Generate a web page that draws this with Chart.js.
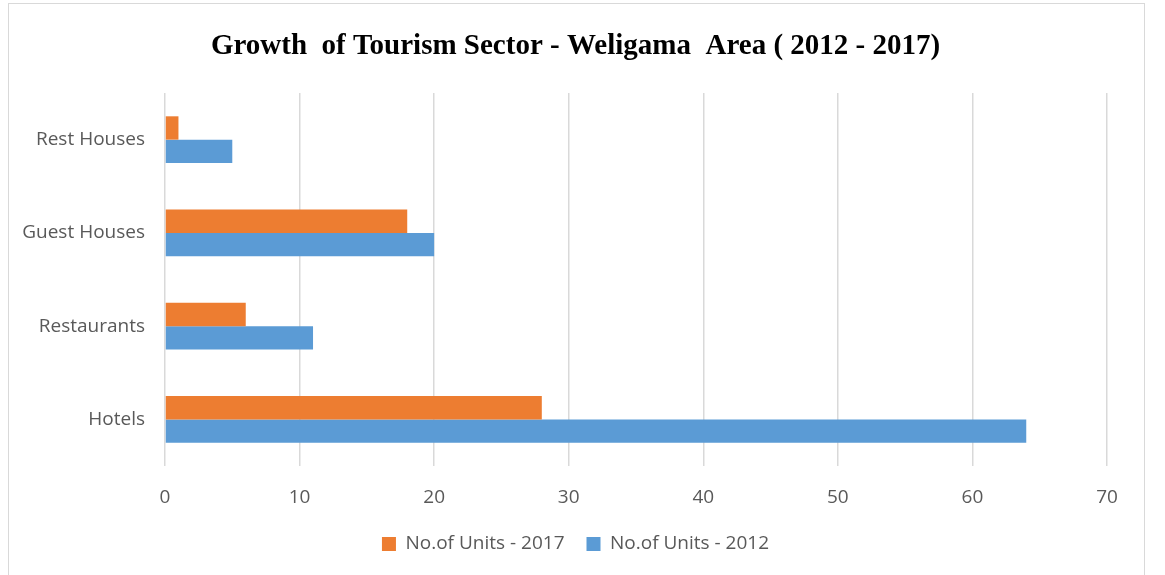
<!DOCTYPE html>
<html>
<head>
<meta charset="utf-8">
<script src="https://cdn.jsdelivr.net/npm/chart.js@4/dist/chart.umd.min.js"></script>
<style>
  html, body { margin: 0; padding: 0; background: #fff; }
  #wrap { position: relative; width: 1165px; height: 575px; overflow: hidden; }
  #frame {
    position: absolute; left: 8px; top: 3px; width: 1137px; height: 600px;
    border: 1px solid #d9d9d9; box-sizing: border-box;
  }
  canvas { position: absolute; left: 0; top: 0; }
</style>
</head>
<body>
<div id="wrap">
  <div id="frame"></div>
  <canvas id="chart" width="1165" height="575"></canvas>
</div>
<script>
// categories top -> bottom, as in the picture
const categories = ['Rest Houses', 'Guest Houses', 'Restaurants', 'Hotels'];
const units2017 = [1, 18, 6, 28];
const units2012 = [5, 20, 11, 64];
const xTicks = [0, 10, 20, 30, 40, 50, 60, 70];

const FONT = 'Open Sans';
const GREY = '#595959';

const ctx = document.getElementById('chart').getContext('2d');

new Chart(ctx, {
  type: 'bar',
  data: {
    labels: categories,
    datasets: [
      {
        label: 'No.of Units - 2017',
        data: units2017,
        backgroundColor: '#ed7d31',
        borderWidth: 0,
        categoryPercentage: 0.5,
        barPercentage: 1.0
      },
      {
        label: 'No.of Units - 2012',
        data: units2012,
        backgroundColor: '#5b9bd5',
        borderWidth: 0,
        categoryPercentage: 0.5,
        barPercentage: 1.0
      }
    ]
  },
  options: {
    indexAxis: 'y',
    responsive: false,
    animation: false,
    devicePixelRatio: 1,
    layout: { padding: { left: 0, right: 14, top: 0, bottom: 11.5 } },
    plugins: {
      title: {
        display: true,
        text: 'Growth  of Tourism Sector - Weligama  Area ( 2012 - 2017)',
        color: '#000',
        font: { family: 'Liberation Serif', size: 29, weight: 'bold' },
        padding: { top: 29.6, bottom: 28.6 }
      },
      legend: {
        display: true,
        position: 'bottom',
        labels: {
          color: GREY,
          boxWidth: 14,
          boxHeight: 14,
          padding: 22,
          font: { family: FONT, size: 19 }
        }
      },
      tooltip: { enabled: false }
    },
    scales: {
      x: {
        min: 0,
        // range runs a little past the last tick so the plot leaves empty room on the right
        max: 73.27,
        afterBuildTicks: axis => { axis.ticks = xTicks.map(v => ({ value: v })); },
        afterFit: axis => { axis.height = 46.5; },
        ticks: { color: GREY, padding: 20.5, font: { family: FONT, size: 19 } },
        grid: { color: '#d9d9d9', lineWidth: 1.5, drawTicks: false },
        border: { display: false }
      },
      y: {
        afterFit: axis => { axis.width = 165; },
        ticks: { color: GREY, padding: 20, font: { family: FONT, size: 19 } },
        grid: { display: false, drawTicks: false },
        border: { display: false }
      }
    }
  }
});
</script>
</body>
</html>
